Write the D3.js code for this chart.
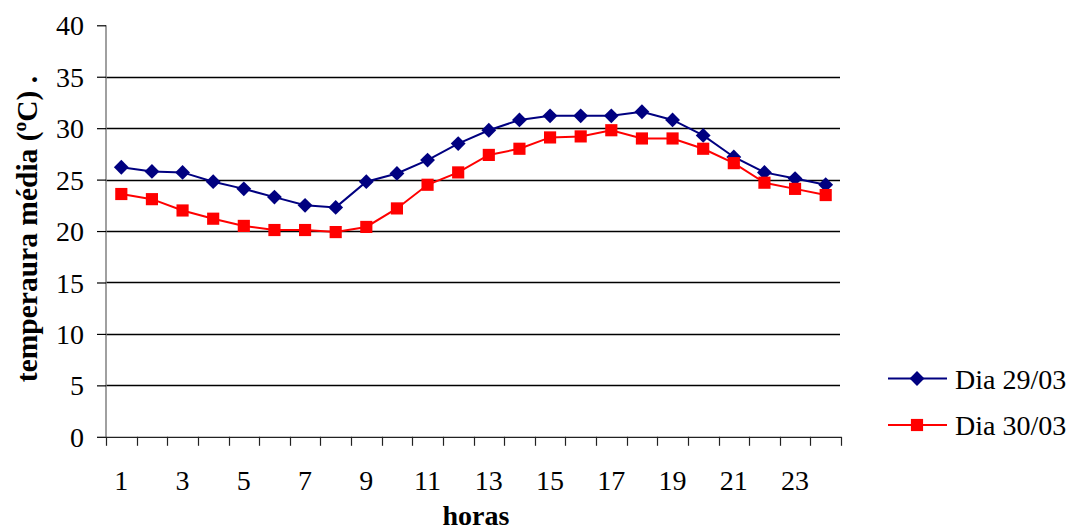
<!DOCTYPE html>
<html><head><meta charset="utf-8">
<script src="https://cdn.jsdelivr.net/npm/d3@7"></script>
<style>
html,body{margin:0;padding:0;background:#fff;}
svg{display:block;font-family:"Liberation Serif","Times New Roman",serif;}
svg text{font-family:"Liberation Serif","Times New Roman",serif;}
</style></head>
<body>
<svg id="chart" width="1073" height="531"></svg>
<script>
const hours = d3.range(1, 25);
const dia2903 = [26.2,25.8,25.7,24.8,24.1,23.3,22.5,22.3,24.8,25.6,26.9,28.5,29.8,30.8,31.2,31.2,31.2,31.6,30.8,29.3,27.2,25.7,25.1,24.5];
const dia3003 = [23.6,23.1,22.0,21.2,20.5,20.1,20.1,19.9,20.4,22.2,24.5,25.7,27.4,28.0,29.1,29.2,29.8,29.0,29.0,28.0,26.6,24.7,24.1,23.5];
const yTicks = [0,5,10,15,20,25,30,35,40];
const xTickLabels = [1,3,5,7,9,11,13,15,17,19,21,23];
const seriesNames = ["Dia 29/03","Dia 30/03"];
const seriesColors = ["#000080","#ff0000"];

const svg = d3.select("#chart");
const L = 106, R = 841, T = 25.3, B = 436.8;
const x = d3.scaleBand().domain(hours).range([L, R]);
const y = d3.scaleLinear().domain([0, 40]).range([B, T]);

// gridlines
svg.append("g").selectAll("line").data(yTicks.filter(v => v > 0 && v < 40)).join("line")
  .attr("x1", L).attr("x2", R - 1).attr("y1", d => Math.round(y(d)) + 0.5).attr("y2", d => Math.round(y(d)) + 0.5)
  .attr("stroke", "#000").attr("stroke-width", 1.3);

// y axis
const yAxis = svg.append("g").attr("transform", `translate(${L},0)`)
  .call(d3.axisLeft(y).tickValues(yTicks).tickSize(9).tickPadding(13).tickFormat(d3.format("d")));
yAxis.attr("font-family", null);
yAxis.select(".domain").attr("stroke", "#808080").attr("stroke-width", 1.5).attr("d", `M0,${T}V${B}`);
yAxis.selectAll(".tick line").attr("stroke", "#000").attr("stroke-width", 1.2);
yAxis.selectAll(".tick text").attr("font-size", 28).attr("fill", "#000").attr("dy", "0.34em");

// x axis
const xb = d3.scaleLinear().domain([0, 24]).range([L, R]);
const xAxisG = svg.append("g").attr("transform", `translate(0,${B})`);
xAxisG.append("line").attr("x1", L).attr("x2", R).attr("y1", 0.5).attr("y2", 0.5).attr("stroke", "#222").attr("stroke-width", 1.3);
xAxisG.selectAll("line.tk").data(d3.range(0, 25)).join("line").attr("class", "tk")
  .attr("x1", d => Math.round(xb(d)) + 0.5).attr("x2", d => Math.round(xb(d)) + 0.5)
  .attr("y1", 0).attr("y2", 9).attr("stroke", "#222").attr("stroke-width", 1.2);
xAxisG.selectAll("text").data(xTickLabels).join("text")
  .attr("x", d => x(d) + x.bandwidth() / 2).attr("y", 53)
  .attr("text-anchor", "middle").attr("font-size", 28).text(d => d);

// axis titles
svg.append("text").attr("x", 476).attr("y", 525).attr("text-anchor", "middle")
  .attr("font-size", 28).attr("font-weight", "bold").text("horas");
svg.append("text").attr("transform", "translate(37,229) rotate(-90)").attr("text-anchor", "middle")
  .attr("font-size", 29.5).attr("font-weight", "bold").text("temperaura média (ºC) .");

// series
const line = d3.line().x((d, i) => x(hours[i]) + x.bandwidth() / 2).y(d => y(d));
const datasets = [dia2903, dia3003];
const diamond = d3.symbol().type(d3.symbolSquare).size(110);
const square = d3.symbol().type(d3.symbolSquare).size(148);
datasets.forEach((ds, k) => {
  svg.append("path").datum(ds).attr("d", line).attr("fill", "none")
    .attr("stroke", seriesColors[k]).attr("stroke-width", 2);
  svg.append("g").selectAll("path").data(ds).join("path")
    .attr("transform", (d, i) => `translate(${x(hours[i]) + x.bandwidth() / 2},${y(d)})` + (k === 0 ? " rotate(45)" : ""))
    .attr("d", k === 0 ? diamond : square).attr("fill", seriesColors[k]);
});

// legend
const legendY = [378.5, 425];
seriesNames.forEach((name, k) => {
  const g = svg.append("g").attr("transform", `translate(0,${legendY[k]})`);
  g.append("line").attr("x1", 888).attr("x2", 947).attr("y1", 0).attr("y2", 0)
    .attr("stroke", seriesColors[k]).attr("stroke-width", 2);
  g.append("path").attr("transform", "translate(917,0)" + (k === 0 ? " rotate(45)" : ""))
    .attr("d", k === 0 ? diamond : square).attr("fill", seriesColors[k]);
  g.append("text").attr("x", 955).attr("y", 10).attr("font-size", 28).text(name);
});
</script>
</body></html>
